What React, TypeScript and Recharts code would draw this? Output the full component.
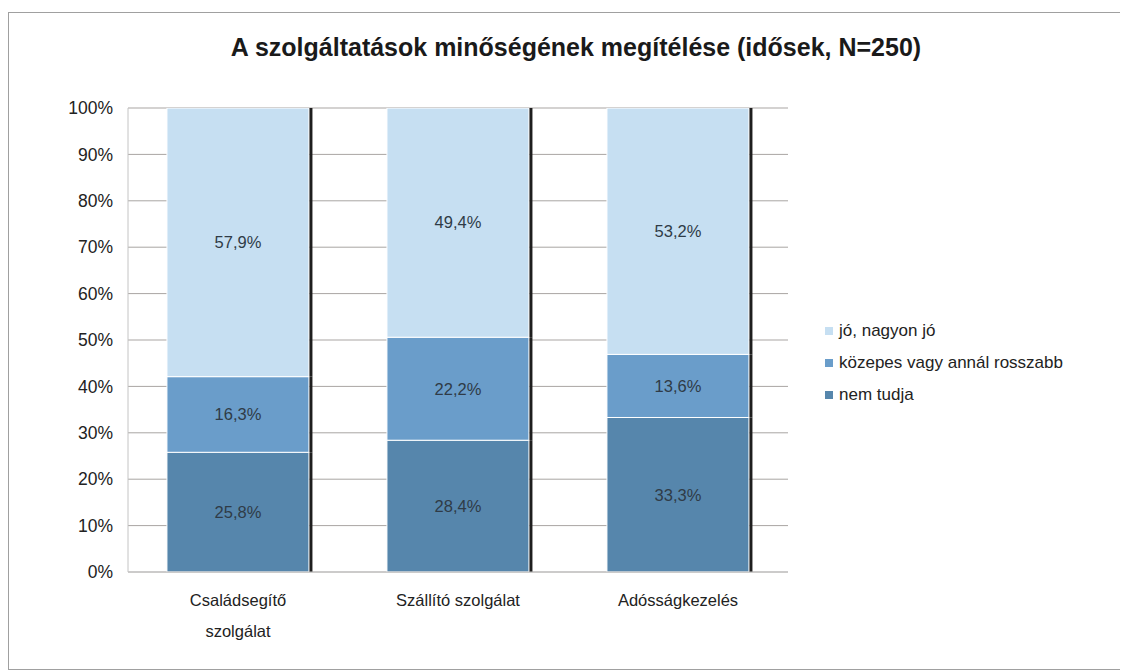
import React from 'react';
import { BarChart, Bar, XAxis, YAxis, CartesianGrid, LabelList } from 'recharts';

const categories = ['Családsegítő szolgálat', 'Szállító szolgálat', 'Adósságkezelés'];
const nemTudja = [25.8, 28.4, 33.3];
const kozepes = [16.3, 22.2, 13.6];
const jo = [57.9, 49.4, 53.2];
const yTicks = [0, 10, 20, 30, 40, 50, 60, 70, 80, 90, 100];

const tickLines: Record<string, string[]> = {
  'Családsegítő szolgálat': ['Családsegítő', 'szolgálat'],
};

const chartData = categories.map((name, i) => ({
  name,
  nemTudja: nemTudja[i],
  kozepes: kozepes[i],
  jo: jo[i],
}));

const FONT = '"Liberation Sans", Arial, sans-serif';

const fmt = (v: number) => v.toFixed(1).replace('.', ',') + '%';

// bar segment with the dark edge on its right side
const EdgeBar = (props: any) => {
  const { x, y, width, height, fill } = props;
  if (!height || height <= 0) return null;
  return (
    <g>
      <rect x={x} y={y} width={width} height={height} fill={fill} stroke="#ffffff" strokeWidth={1} />
      <rect x={x + width + 0.5} y={y} width={3} height={height} fill="#1e1e1e" />
    </g>
  );
};

const CategoryTick = (props: any) => {
  const { x, y, payload } = props;
  const lines = tickLines[payload.value] || [payload.value];
  return (
    <g transform={`translate(${x},${y})`}>
      {lines.map((l, i) => (
        <text key={i} x={0} y={i * 31} dy={26} textAnchor="middle" fontSize={16.5} fill="#222" fontFamily={FONT}>
          {l}
        </text>
      ))}
    </g>
  );
};

const legendItems = [
  { label: 'jó, nagyon jó', color: '#c6dff2' },
  { label: 'közepes vagy annál rosszabb', color: '#6a9dca' },
  { label: 'nem tudja', color: '#5686ac' },
];

const App: React.FC = () => {
  return (
    <div style={{ width: 1118, height: 656, border: '1px solid #a0a0a0', marginTop: 4, position: 'relative', background: '#fff' }}>
      <div
        style={{
          position: 'absolute',
          top: 20,
          left: 0,
          width: 1134,
          textAlign: 'center',
          fontFamily: FONT,
          fontWeight: 'bold',
          fontSize: 25,
          color: '#1a1a1a',
        }}
      >
        A szolgáltatások minőségének megítélése (idősek, N=250)
      </div>
      <div style={{ position: 'absolute', left: 816, top: 302, fontFamily: FONT, fontSize: 17, color: '#222' }}>
        {legendItems.map((it) => (
          <div key={it.label} style={{ display: 'flex', alignItems: 'center', height: 32, whiteSpace: 'nowrap' }}>
            <span style={{ width: 8, height: 8, background: it.color, marginRight: 6, display: 'inline-block' }} />
            <span>{it.label}</span>
          </div>
        ))}
      </div>
      <BarChart
        width={1118}
        height={656}
        data={chartData}
        margin={{ top: 95, right: 339, bottom: 37, left: 59 }}
        barCategoryGap="17.7%"
      >
        <CartesianGrid vertical={false} stroke="#a9a5a3" strokeWidth={1} />
        <XAxis dataKey="name" height={60} axisLine={{ stroke: '#c4c4c4' }} tickLine={false} tick={<CategoryTick />} interval={0} />
        <YAxis
          width={60}
          domain={[0, 100]}
          ticks={yTicks}
          allowDataOverflow
          tickFormatter={(v: number) => `${v}%`}
          axisLine={{ stroke: '#c4c4c4' }}
          tickLine={false}
          tickSize={0}
          tickMargin={15}
          tick={{ fontSize: 17.5, fill: '#222', fontFamily: FONT }}
        />
        <Bar dataKey="nemTudja" stackId="a" fill="#5686ac" shape={<EdgeBar />} isAnimationActive={false}>
          <LabelList dataKey="nemTudja" position="center" formatter={fmt} fill="#2f3b47" fontSize={16.5} fontFamily={FONT} />
        </Bar>
        <Bar dataKey="kozepes" stackId="a" fill="#6a9dca" shape={<EdgeBar />} isAnimationActive={false}>
          <LabelList dataKey="kozepes" position="center" formatter={fmt} fill="#2f3b47" fontSize={16.5} fontFamily={FONT} />
        </Bar>
        <Bar dataKey="jo" stackId="a" fill="#c6dff2" shape={<EdgeBar />} isAnimationActive={false}>
          <LabelList dataKey="jo" position="center" formatter={fmt} fill="#2f3b47" fontSize={16.5} fontFamily={FONT} />
        </Bar>
      </BarChart>
    </div>
  );
};

export default App;
